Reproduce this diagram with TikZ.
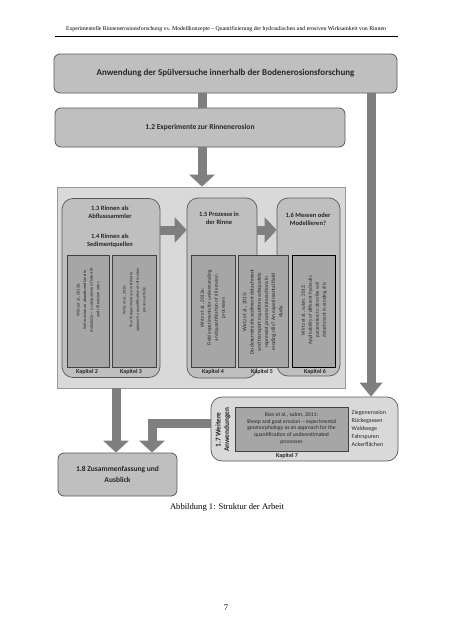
\documentclass[tikz,border=0pt]{standalone}
\usepackage{fontspec}
\setmainfont{Liberation Serif}
\newfontfamily\calfont{Carlito}
\usetikzlibrary{arrows.meta}

\definecolor{panelgray}{HTML}{D9D9D9}
\definecolor{boxgray}{HTML}{BFBFBF}
\definecolor{innergray}{HTML}{A6A6A6}
\definecolor{bargray}{HTML}{7F7F7F}
\definecolor{edgegray}{HTML}{595959}
\definecolor{txtgray}{HTML}{262626}

\tikzset{
  mainbox/.style={draw=edgegray, fill=boxgray, rounded corners=6pt, line width=0.8pt,
    inner sep=0pt, align=center, text=txtgray},
  groupbox/.style={draw=edgegray, fill=boxgray, rounded corners=11pt, line width=0.7pt, inner sep=0pt},
  panelbox/.style={draw=gray!80, fill=panelgray, line width=0.7pt, inner sep=0pt},
  paperbox/.style={draw=black!75, fill=innergray, line width=0.7pt, inner sep=0pt},
  papertext/.style={rotate=90, align=center, inner sep=0pt, text=txtgray},
  headtext/.style={align=center, inner sep=0pt, text=txtgray,
    font=\calfont\bfseries\fontsize{6.5pt}{8pt}\selectfont},
  kaptext/.style={inner sep=0pt, text=txtgray, font=\calfont\bfseries\fontsize{6pt}{7pt}\selectfont},
  bar/.style={draw=bargray, line width=9pt},
  bararrow/.style={bar, -{Triangle[width=25pt,length=12pt]}},
}

\begin{document}
\begin{tikzpicture}[x=1pt,y=-1pt]
\useasboundingbox (0,0) rectangle (453,640);
\fill[white] (0,0) rectangle (453,640);

% header
\node[inner sep=0pt, font=\fontsize{5.8pt}{7pt}\selectfont] (header) at (226,29.5)
  {Experimentelle Rinnenerosionsforschung vs. Modellkonzepte -- Quantifizierung der hydraulischen und erosiven Wirksamkeit von Rinnen};
\coordinate (hl) at (55,36.5);
\coordinate (hr) at (398,36.5);
\draw[line width=1.3pt] (hl) -- (hr);

% helper coordinates
\coordinate (c202) at (202,0);
\coordinate (c371) at (371,0);
\coordinate (c116) at (116,0);
\coordinate (c152) at (152,0);
\coordinate (c230) at (0,230);
\coordinate (c423) at (0,423.5);

% top box
\node[mainbox, minimum width=343pt, minimum height=39pt,
  font=\calfont\bfseries\fontsize{9pt}{11pt}\selectfont] (top) at (225.5,73.5)
  {Anwendung der Spülversuche innerhalb der Bodenerosionsforschung};

% 1.2 box
\node[mainbox, minimum width=290pt, minimum height=39pt,
  font=\calfont\bfseries\fontsize{7.5pt}{9pt}\selectfont] (b12) at (200,127.5)
  {1.2 Experimente zur Rinnenerosion};

% panel
\node[panelbox, minimum width=288pt, minimum height=201pt] (panel) at (201,287.5) {};

% groups
\node[groupbox, minimum width=98pt, minimum height=179pt] (g1) at (111,288) {};
\node[groupbox, minimum width=70pt, minimum height=180pt] (g2) at (222,288) {};
\node[groupbox, minimum width=63pt, minimum height=178pt] (g3) at (308.5,287) {};

\node[headtext] (t13) at (110,212) {1.3 Rinnen als\\Abflusssammler};
\node[headtext] (t14) at (110,241) {1.4 Rinnen als\\Sedimentquellen};
\node[headtext] (t15) at (219,218) {1.5 Prozesse in\\der Rinne};
\node[headtext] (t16) at (308,219) {1.6 Messen oder\\Modellieren?};

% paper boxes
\node[paperbox, minimum width=42pt, minimum height=112pt] (pA) at (88,311) {};
\node[paperbox, minimum width=44pt, minimum height=112pt] (pB) at (134.5,311) {};
\node[paperbox, minimum width=44pt, minimum height=112pt] (pC) at (213,311) {};
\node[paperbox, minimum width=50pt, minimum height=112pt] (pD) at (263,311) {};
\node[paperbox, minimum width=43pt, minimum height=112pt, draw=black] (pE) at (314,311) {};

\node[papertext, font=\calfont\fontsize{4.3pt}{6.6pt}\selectfont] (xA) at (88,300)
  {Wirtz et al., 2012b:\\Soil erosion on abandoned land in\\Andalusia -- a comparison of interrill-\\and rill erosion rates};
\node[papertext, font=\calfont\fontsize{4pt}{6.6pt}\selectfont] (xB) at (134.5,300)
  {Wirtz et al., 2010:\\The rill experiment as a method to\\approach a quantification of rill erosion\\process activity};
\node[papertext, font=\calfont\fontsize{5.1pt}{7pt}\selectfont] (xC) at (213,308)
  {Wirtz et al., 2013a:\\Field experiments for understanding\\and quantification of rill erosion\\processes};
\node[papertext, font=\calfont\fontsize{5.4pt}{7.2pt}\selectfont] (xD) at (263,312)
  {Wirtz et al., 2013:\\Do deterministic sediment detachment\\and transport equations adequately\\represent process interactions in\\eroding rills? An experimental field\\study};
\node[papertext, font=\calfont\fontsize{5pt}{7pt}\selectfont] (xE) at (314,310)
  {Wirtz et al., subm. 2012:\\Applicability of different hydraulic\\parameters to describe soil\\detachment in eroding rills};

% Kapitel labels
\node[kaptext] (k2) at (87,372) {Kapitel 2};
\node[kaptext] (k3) at (131,372) {Kapitel 3};
\node[kaptext] (k4) at (213,371.5) {Kapitel 4};
\node[kaptext] (k5) at (262,371.5) {Kapitel 5};
\node[kaptext] (k6) at (315,371.5) {Kapitel 6};

% 1.7 box
\node[groupbox, fill=panelgray, minimum width=187pt, minimum height=64pt] (b17) at (304.5,429) {};
\node[headtext, rotate=90, font=\calfont\bfseries\fontsize{7.3pt}{8.5pt}\selectfont] (t17) at (223,430)
  {1.7 Weitere\\Anwendungen};
\node[paperbox, minimum width=113pt, minimum height=44pt] (pF) at (291.5,429) {};
\node[align=center, inner sep=0pt, text=txtgray, font=\calfont\fontsize{5.6pt}{6.8pt}\selectfont] (xF) at (291.5,428.5)
  {Ries et al., subm. 2011:\\Sheep and goat erosion -- experimental\\geomorphology as an approach for the\\quantification of underestimated\\processes};
\node[kaptext] (k7) at (287,455.5) {Kapitel 7};
\node[align=left, anchor=west, inner sep=0pt, text=txtgray, font=\calfont\fontsize{6pt}{8pt}\selectfont] (list) at (351.5,428)
  {Ziegenerosion\\Rückegassen\\Waldwege\\Fahrspuren\\Ackerflächen};

% 1.8 box
\node[mainbox, minimum width=119pt, minimum height=43pt,
  font=\calfont\bfseries\fontsize{7.5pt}{10.5pt}\selectfont] (b18) at (117.5,474.5)
  {1.8 Zusammenfassung und\\Ausblick};

% connectors
\draw[bar] (top.south -| c202) -- (b12.north -| c202);
\draw[bararrow] (b12.south -| c202) -- (panel.north -| c202);
\draw[bar, -{Triangle[width=22pt,length=14pt]}] (top.south -| c371) -- (b17.north -| c371);
\draw[bararrow] (g1.east |- c230) -- (g2.west |- c230);
\draw[bararrow] (g2.east |- c230) -- (g3.west |- c230);
\draw[bararrow] (panel.south -| c116) -- (b18.north -| c116);
\draw[bararrow, line join=miter] (b17.west |- c423) -- (c423 -| c152) -- (b18.north -| c152);

% caption and page number
\node[inner sep=0pt, font=\fontsize{8.6pt}{10pt}\selectfont] (cap) at (227,507) {Abbildung 1: Struktur der Arbeit};
\node[inner sep=0pt, font=\fontsize{8.6pt}{10pt}\selectfont] (pg) at (226,607.5) {7};
\end{tikzpicture}
\end{document}
